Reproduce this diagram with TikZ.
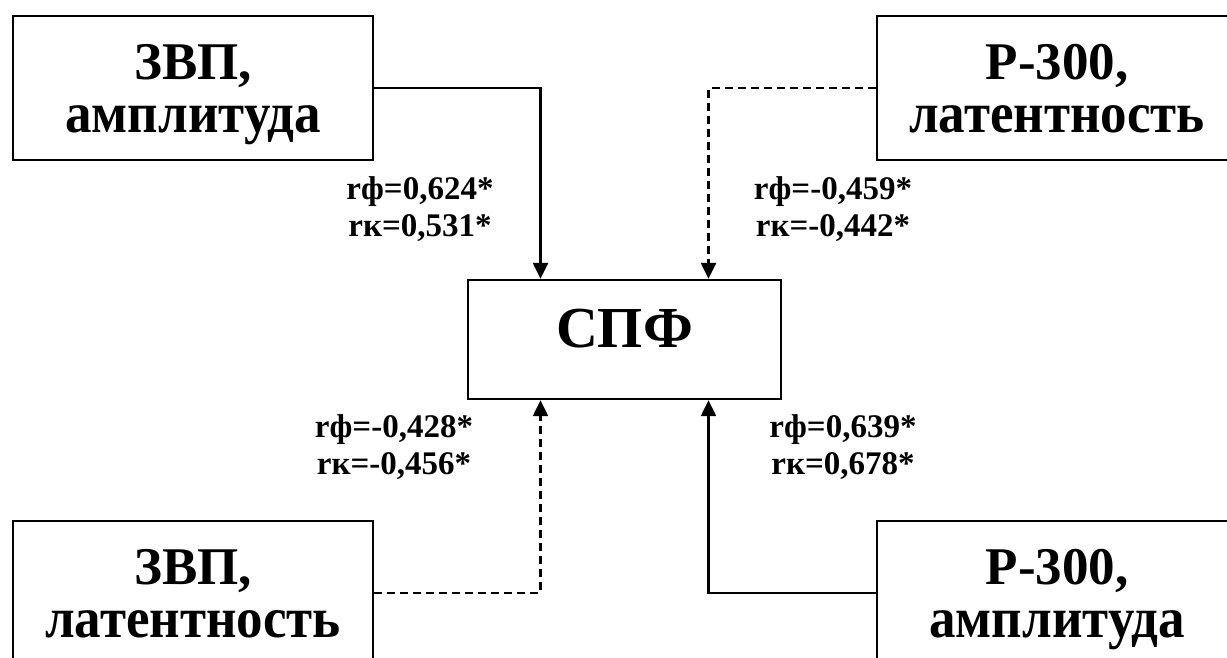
\documentclass[tikz,border=0pt]{standalone}
\usepackage{fontspec}
\setmainfont{Liberation Serif}
\usepackage{graphicx}
\usetikzlibrary{arrows.meta}
\newcommand{\lowline}[1]{\scalebox{1}[1.08]{#1}}
\tikzset{
  block/.style={draw, line width=2.4pt, minimum width=360pt, minimum height=144pt,
    inner sep=0pt, align=center, text depth=0pt,
    font=\fontsize{53}{53}\selectfont\bfseries},
  corr/.style={align=center, inner sep=0pt, text depth=0pt,
    font=\fontsize{33}{37}\selectfont\bfseries},
  link/.style={line width=2.4pt, -{Triangle[length=16pt, width=15pt]}},
  weak/.style={link, dash pattern=on 8pt off 5pt}
}

\begin{document}
\begin{tikzpicture}[x=1pt, y=-1pt]
    \useasboundingbox (0, 0) rectangle (1227, 657);
    \clip (0, 0) rectangle (1227, 657);

    % sources
    \node[block] (zvpamp)  at (193,  88)  {ЗВП,\\\lowline{амплитуда}};
    \node[block] (p300lat) at (1057, 88)  {Р-300,\\\lowline{латентность}};
    \node[block] (zvplat)  at (193,  593) {ЗВП,\\\lowline{латентность}};
    \node[block] (p300amp) at (1057, 593) {Р-300,\\\lowline{амплитуда}};

    % target
    \node[draw, line width=2.4pt, minimum width=313pt, minimum height=119pt,
      inner sep=0pt, text depth=23pt, font=\fontsize{58}{60}\selectfont\bfseries]
      (spf) at (624.5, 339.5) {СПФ};

    \draw[link] (zvpamp.east)  -| ([xshift=-84pt]spf.north);
    \draw[weak] (p300lat.west) -| ([xshift=84pt]spf.north);
    \draw[weak] (zvplat.east)  -| ([xshift=-84pt]spf.south);
    \draw[link] (p300amp.west) -| ([xshift=84pt]spf.south);

    \node[corr] (rzvpamp)  at (420, 207) {rф=0,624*\\rк=0,531*};
    \node[corr] (rp300lat) at (833, 207) {rф=-0,459*\\rк=-0,442*};
    \node[corr] (rzvplat)  at (394, 445) {rф=-0,428*\\rк=-0,456*};
    \node[corr] (rp300amp) at (843, 445) {rф=0,639*\\rк=0,678*};
\end{tikzpicture}
\end{document}
